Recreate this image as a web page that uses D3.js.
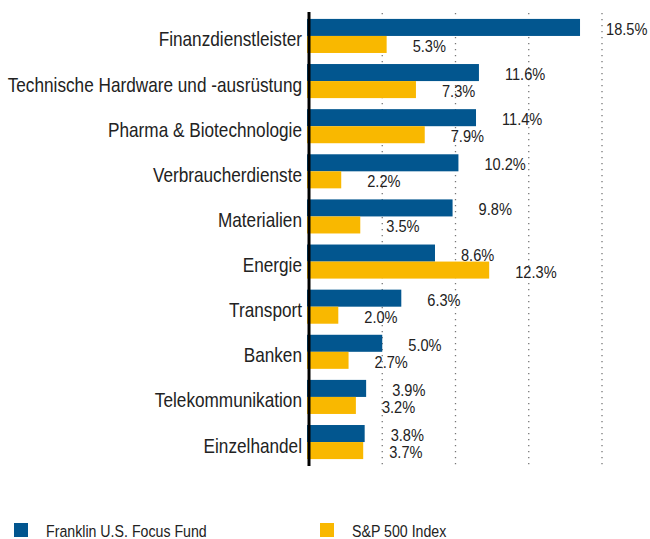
<!DOCTYPE html>
<html>
<head>
<meta charset="utf-8">
<script src="https://cdn.jsdelivr.net/npm/d3@7"></script>
<style>
  body { margin: 0; background: #fff; }
  text { font-family: "Liberation Sans", Arial, sans-serif; fill: #222; }
</style>
</head>
<body>
<div id="chart"></div>
<script>
const categories = ["Finanzdienstleister", "Technische Hardware und -ausrüstung", "Pharma & Biotechnologie",
  "Verbraucherdienste", "Materialien", "Energie", "Transport", "Banken", "Telekommunikation", "Einzelhandel"];
const fundValues = [18.5, 11.6, 11.4, 10.2, 9.8, 8.6, 6.3, 5.0, 3.9, 3.8];
const indexValues = [5.3, 7.3, 7.9, 2.2, 3.5, 12.3, 2.0, 2.7, 3.2, 3.7];
const seriesNames = ["Franklin U.S. Focus Fund", "S&P 500 Index"];
const colors = ["#02568f", "#f9b800"];
const gridTicks = [5, 10, 15, 20];

const W = 650, H = 539;
const narrow = 0.86; // squeeze text to look like a condensed face
const svg = d3.select("#chart").append("svg").attr("width", W).attr("height", H);

const x = d3.scaleLinear().domain([0, 20]).range([309, 602]);
const y = d3.scaleBand().domain(categories).range([13.5, 464.5]).paddingInner(0.245).paddingOuter(0.12);
const sub = d3.scaleBand().domain([0, 1]).range([0, y.bandwidth()]);

// dotted gridlines
svg.append("g").selectAll("line")
    .data(gridTicks)
    .enter()
    .append("line")
    .attr("x1", d => x(d)).attr("x2", d => x(d))
    .attr("y1", 13).attr("y2", 466)
    .attr("stroke", "#777")
    .attr("stroke-width", 1.3)
    .attr("stroke-dasharray", "1.3,4.7");

const rows = svg.append("g").selectAll("g")
    .data(categories)
    .enter()
    .append("g")
    .attr("transform", d => `translate(0,${y(d)})`);

[fundValues, indexValues].forEach((vals, s) => {
  rows.append("rect")
      .attr("x", x(0) - 2)
      .attr("y", sub(s))
      .attr("width", (d, i) => x(vals[i]) - x(0) + 2)
      .attr("height", sub.bandwidth())
      .attr("fill", colors[s]);

  rows.append("text")
      .attr("transform", (d, i) => `translate(${x(vals[i]) + 26},${sub(s) + sub.bandwidth() - 1}) scale(${narrow},1)`)
      .attr("font-size", 17)
      .text((d, i) => vals[i].toFixed(1) + "%");
});

// category labels
rows.append("text")
    .attr("transform", `translate(302,${y.bandwidth() / 2 + 10.5}) scale(${narrow},1)`)
    .attr("text-anchor", "end")
    .attr("font-size", 20)
    .text(d => d);

// axis line
svg.append("line")
    .attr("x1", x(0)).attr("x2", x(0))
    .attr("y1", 12).attr("y2", 466)
    .attr("stroke", "#000")
    .attr("stroke-width", 3);

// legend
const legendX = [14, 320];
const legend = svg.append("g").selectAll("g")
    .data(seriesNames)
    .enter()
    .append("g")
    .attr("transform", (d, i) => `translate(${legendX[i]},523)`);

legend.append("rect")
    .attr("width", 14).attr("height", 14)
    .attr("fill", (d, i) => colors[i]);

legend.append("text")
    .attr("transform", `translate(32,13.5) scale(${narrow},1)`)
    .attr("font-size", 16.5)
    .text(d => d);
</script>
</body>
</html>
